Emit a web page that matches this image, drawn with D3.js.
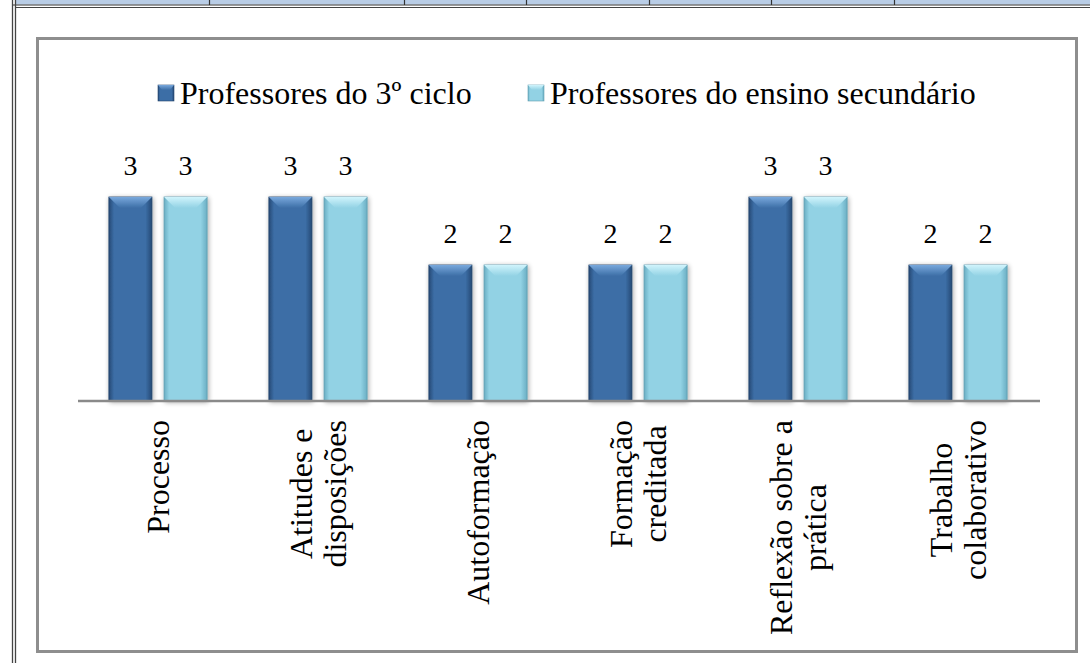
<!DOCTYPE html>
<html>
  <head>
    <title>Formação de professores</title>
    <script src="https://d3js.org/d3.v7.min.js"></script>
    <style>
      body { margin: 0; background: #fff; }
    </style>
  </head>
  <body>
    <div id="chart"></div>
    <script>
      // Data
      var categories = ["Processo", "Atitudes e disposições", "Autoformação",
                        "Formação creditada", "Reflexão sobre a prática", "Trabalho colaborativo"];
      var categoryLines = [["Processo"], ["Atitudes e", "disposições"], ["Autoformação"],
                           ["Formação", "creditada"], ["Reflexão sobre a", "prática"],
                           ["Trabalho", "colaborativo"]];
      var seriesNames = ["Professores do 3º ciclo", "Professores do ensino secundário"];
      var ciclo3 = [3, 3, 2, 2, 3, 2];
      var secundario = [3, 3, 2, 2, 3, 2];
      var seriesValues = [ciclo3, secundario];
      var headerCells = [15, 209, 404, 526, 649, 771, 894, 1090];

      var width = 1090, height = 663;
      var serif = "Liberation Serif";

      var svg = d3.select("#chart")
        .append("svg")
        .attr("width", width)
        .attr("height", height);

      var defs = svg.append("defs");

      // colours for each series: edge, body, bevel highlight
      var palette = [
        { edge: "#264a76", body: "#3c6ea6", hi: "#79a8dc", stroke: "#22436b" },
        { edge: "#6aaec3", body: "#92d2e4", hi: "#d0f4fc", stroke: "#5f9db0" }
      ];
      palette.forEach(function(p, i) {
        var g = defs.append("linearGradient").attr("id", "body" + i)
          .attr("x1", "0").attr("x2", "1").attr("y1", "0").attr("y2", "0");
        g.append("stop").attr("offset", "0").attr("stop-color", p.edge);
        g.append("stop").attr("offset", "0.12").attr("stop-color", p.body);
        g.append("stop").attr("offset", "0.85").attr("stop-color", p.body);
        g.append("stop").attr("offset", "1").attr("stop-color", p.edge);
        var h = defs.append("linearGradient").attr("id", "hi" + i)
          .attr("x1", "0").attr("x2", "0").attr("y1", "0").attr("y2", "1");
        h.append("stop").attr("offset", "0").attr("stop-color", p.hi);
        h.append("stop").attr("offset", "1").attr("stop-color", p.body);
      });
      var shadow = defs.append("filter").attr("id", "shadow")
        .attr("x", "-20%").attr("y", "-10%").attr("width", "140%").attr("height", "120%");
      shadow.append("feGaussianBlur").attr("in", "SourceAlpha").attr("stdDeviation", 2.5);
      shadow.append("feOffset").attr("dx", 1).attr("dy", 1).attr("result", "blur");
      shadow.append("feComponentTransfer").append("feFuncA").attr("type", "linear").attr("slope", 0.35);
      var merge = shadow.append("feMerge");
      merge.append("feMergeNode");
      merge.append("feMergeNode").attr("in", "SourceGraphic");

      // Header row of the surrounding table
      var header = svg.append("g");
      header.selectAll("rect")
        .data(d3.pairs(headerCells))
        .enter()
        .append("rect")
        .attr("x", function(d) { return d[0]; })
        .attr("y", 0)
        .attr("width", function(d) { return d[1] - d[0]; })
        .attr("height", 4.5)
        .attr("fill", "#b9cde6");
      header.selectAll("line.v")
        .data(headerCells.slice(1, -1))
        .enter()
        .append("line")
        .attr("x1", function(d) { return d + 0.5; })
        .attr("x2", function(d) { return d + 0.5; })
        .attr("y1", 0).attr("y2", 5)
        .attr("stroke", "#333").attr("stroke-width", 1.2);
      header.append("line").attr("x1", 12).attr("x2", width).attr("y1", 5).attr("y2", 5)
        .attr("stroke", "#333").attr("stroke-width", 1.2);
      header.append("line").attr("x1", 15).attr("x2", width).attr("y1", 7.5).attr("y2", 7.5)
        .attr("stroke", "#444").attr("stroke-width", 1.2);
      header.append("line").attr("x1", 12.5).attr("x2", 12.5).attr("y1", 0).attr("y2", height)
        .attr("stroke", "#444").attr("stroke-width", 1.3);
      header.append("line").attr("x1", 15.5).attr("x2", 15.5).attr("y1", 0).attr("y2", height)
        .attr("stroke", "#444").attr("stroke-width", 1.3);

      // Chart frame
      svg.append("rect")
        .attr("x", 37.5).attr("y", 38.5)
        .attr("width", 1039).attr("height", 613)
        .attr("fill", "#fff")
        .attr("stroke", "#8e8e8e")
        .attr("stroke-width", 3);

      // Scales
      var x0 = d3.scaleBand()
        .domain(categories)
        .range([78, 1038]);

      var x1 = d3.scaleBand()
        .domain(d3.range(seriesNames.length))
        .range([0, x0.bandwidth()])
        .paddingInner(0.22)
        .paddingOuter(0.56);

      var y = d3.scaleLinear()
        .domain([0, 3])
        .range([401, 197]);

      // Bars
      var groups = svg.selectAll("g.group")
        .data(categories)
        .enter()
        .append("g")
        .attr("class", "group")
        .attr("transform", function(d) { return "translate(" + x0(d) + ",0)"; });

      var bars = groups.selectAll("g.bar")
        .data(function(d, i) {
          return seriesValues.map(function(vals, s) { return { s: s, v: vals[i] }; });
        })
        .enter()
        .append("g")
        .attr("class", "bar")
        .attr("filter", "url(#shadow)");

      bars.append("rect")
        .attr("x", function(d) { return x1(d.s); })
        .attr("y", function(d) { return y(d.v); })
        .attr("width", x1.bandwidth())
        .attr("height", function(d) { return y(0) - y(d.v); })
        .attr("fill", function(d) { return "url(#body" + d.s + ")"; })
        .attr("stroke", function(d) { return palette[d.s].stroke; })
        .attr("stroke-width", 0.8);

      // top bevel
      bars.append("path")
        .attr("d", function(d) {
          var bx = x1(d.s), by = y(d.v), w = x1.bandwidth(), b = 11;
          return "M" + bx + "," + by + "H" + (bx + w) + "L" + (bx + w - b) + "," + (by + b) +
                 "H" + (bx + b) + "Z";
        })
        .attr("fill", function(d) { return "url(#hi" + d.s + ")"; });

      // value labels
      groups.selectAll("text.val")
        .data(function(d, i) {
          return seriesValues.map(function(vals, s) { return { s: s, v: vals[i] }; });
        })
        .enter()
        .append("text")
        .attr("class", "val")
        .attr("x", function(d) { return x1(d.s) + x1.bandwidth() / 2; })
        .attr("y", function(d) { return y(d.v) - 22; })
        .attr("text-anchor", "middle")
        .attr("font-family", serif)
        .attr("font-size", 28)
        .text(function(d) { return d.v; });

      // Axis baseline
      svg.append("g")
        .attr("transform", "translate(0,401)")
        .call(d3.axisBottom(x0).tickSize(0).tickFormat(""))
        .call(function(g) {
          g.select(".domain").attr("stroke", "#8a8a8a").attr("stroke-width", 2.5)
            .attr("d", "M78,0H1040");
        });

      // Category labels (rotated, multi-line)
      var lineH = 34;
      var labels = svg.selectAll("g.lab")
        .data(categories)
        .enter()
        .append("g")
        .attr("class", "lab")
        .attr("transform", function(d) {
          return "translate(" + (x0(d) + x0.bandwidth() / 2) + ",420) rotate(-90)";
        });

      labels.each(function(d, i) {
        var g = d3.select(this);
        var lines = categoryLines[i];
        var texts = g.selectAll("text")
          .data(lines)
          .enter()
          .append("text")
          .attr("font-family", serif)
          .attr("font-size", 32)
          .attr("text-anchor", "middle")
          .attr("y", function(l, j) { return (j - (lines.length - 1) / 2) * lineH; })
          .attr("dy", "0.35em")
          .text(function(l) { return l; });
        var maxLen = d3.max(texts.nodes(), function(n) { return n.getComputedTextLength(); });
        texts.attr("x", -maxLen / 2);
      });

      // Legend
      var legendX = [158, 528];
      var legend = svg.selectAll("g.legend")
        .data(seriesNames)
        .enter()
        .append("g")
        .attr("class", "legend")
        .attr("transform", function(d, i) { return "translate(" + legendX[i] + ",85)"; });

      legend.append("rect")
        .attr("width", 16).attr("height", 16)
        .attr("fill", function(d, i) { return "url(#body" + i + ")"; })
        .attr("stroke", function(d, i) { return palette[i].stroke; })
        .attr("stroke-width", 0.6);
      legend.append("path")
        .attr("d", "M0,0H16L12,5H4Z")
        .attr("fill", function(d, i) { return "url(#hi" + i + ")"; });
      legend.append("text")
        .attr("x", 22)
        .attr("y", 19)
        .attr("font-family", serif)
        .attr("font-size", 32)
        .text(function(d) { return d; });
    </script>
  </body>
</html>
